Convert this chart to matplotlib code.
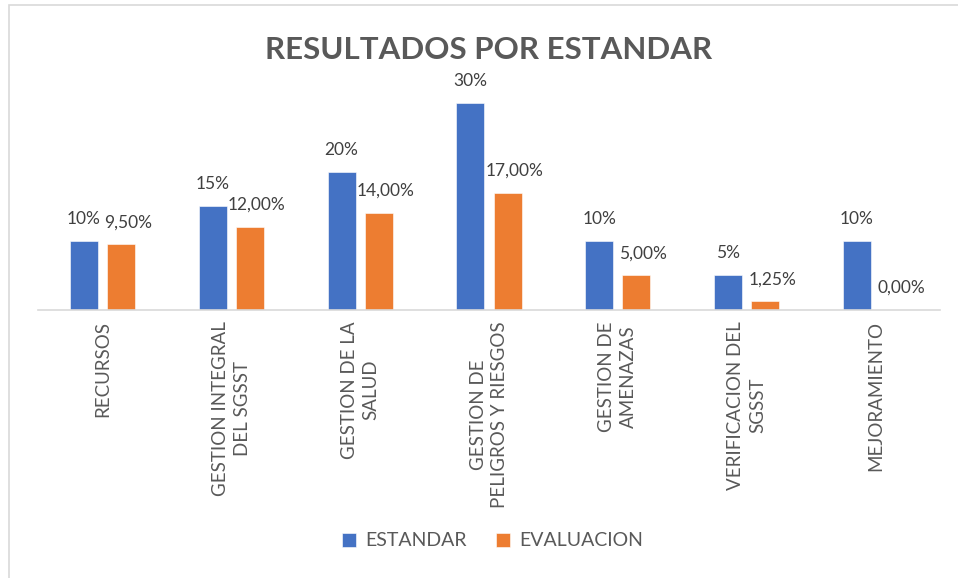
import numpy as np
import matplotlib.pyplot as plt
from matplotlib.patches import Rectangle


plt.rcParams.update({'font.family': ['Lato', 'DejaVu Sans'], 'font.size': 12})


categories = ['RECURSOS', 'GESTION INTEGRAL\nDEL SGSST', 'GESTION DE LA\nSALUD',
              'GESTION DE\nPELIGROS Y RIESGOS', 'GESTION DE\nAMENAZAS',
              'VERIFICACION DEL\nSGSST', 'MEJORAMIENTO']
estandar = [10, 15, 20, 30, 10, 5, 10]
evaluacion = [9.5, 12.0, 14.0, 17.0, 5.0, 1.25, 0.0]

BLUE = '#4472C4'
ORANGE = '#ED7D31'
GRAY = '#595959'


def pct_int(v):
	return f'{v:.0f}%'

def pct_dec(v):
	return f'{v:.2f}%'.replace('.', ',')


fig = plt.figure(figsize=(9.58, 5.78), dpi=100)
ax = fig.add_axes([38 / 958, 1 - 310 / 578, 902 / 958, 230 / 578])

x = np.arange(len(categories))
w = 0.217
off = 0.144
b1 = ax.bar(x - off, estandar, w, color=BLUE, edgecolor='white', linewidth=0.4, label='ESTANDAR')
b2 = ax.bar(x + off, evaluacion, w, color=ORANGE, edgecolor='white', linewidth=0.4, label='EVALUACION')

for rect, v in zip(b1, estandar):
	ax.annotate(pct_int(v), (rect.get_x() + rect.get_width() / 2, v), xytext=(0, 16),
		textcoords='offset points', ha='center', va='center', color='#404040', fontsize=12.5)
for rect, v in zip(b2, evaluacion):
	ax.annotate(pct_dec(v), (rect.get_x() + rect.get_width() / 2, v), xytext=(5, 16),
		textcoords='offset points', ha='center', va='center', color='#404040', fontsize=12.5)

ax.set_xlim(-0.5, len(categories) - 0.5)
ax.set_ylim(0, 33.3)
ax.set_yticks([])
for side in ['top', 'right', 'left']:
	ax.spines[side].set_visible(False)
ax.spines['bottom'].set_color('#D9D9D9')
ax.spines['bottom'].set_linewidth(1.2)
ax.set_xticks(x)
ax.set_xticklabels(categories, rotation=90, ha='center', va='top', multialignment='center',
	color=GRAY, fontsize=13.5, linespacing=1.35)
ax.tick_params(axis='x', length=0, pad=8)

fig.text(489 / 958, 1 - 50 / 578, 'RESULTADOS POR ESTANDAR', ha='center', va='center',
	fontsize=22.5, fontweight='bold', color=GRAY)

fig.legend(handles=[b1, b2], loc='center', bbox_to_anchor=(493 / 958, 1 - 541 / 578), ncol=2,
	frameon=False, fontsize=14, labelcolor=GRAY, handlelength=0.7, handleheight=0.7,
	handletextpad=0.5, columnspacing=1.5)

fig.patches.append(Rectangle((9 / 958, -0.1), 1.1, 1.1 - 5 / 578, transform=fig.transFigure,
	fill=False, edgecolor='#D9D9D9', linewidth=1.2))

fig.savefig('out.png', dpi=100)
